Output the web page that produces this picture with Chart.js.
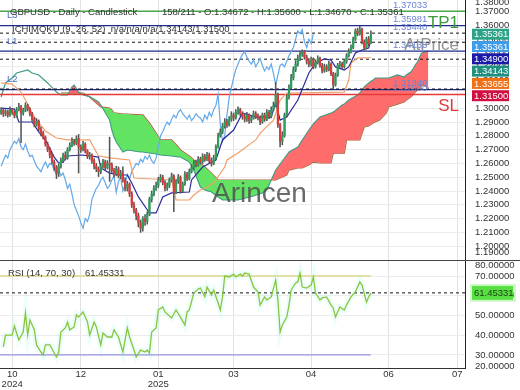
<!DOCTYPE html>
<html>
<head>
<meta charset="utf-8">
<script src="https://cdn.jsdelivr.net/npm/chart.js@4.4.1/dist/chart.umd.min.js"></script>
<style>
  html, body { margin: 0; padding: 0; background: #fff; }
  #wrap { position: relative; width: 520px; height: 390px; overflow: hidden; }
  #priceChart { position: absolute; left: 0; top: 0; }
  #rsiChart { position: absolute; left: 0; top: 261px; }
  #split { position: absolute; left: 0; top: 260px; width: 520px; height: 1px; background: #444; }
</style>
</head>
<body>
<div id="wrap">
  <canvas id="priceChart" width="520" height="261"></canvas>
  <canvas id="rsiChart" width="520" height="129"></canvas>
  <div id="split"></div>
</div>
<script>
// GBPUSD daily bars (bar 0 = mid Oct 2024)
const firstOpen = 1.2970;
const closes = [
  1.2985, 1.2960, 1.2975, 1.2950, 1.2990, 1.2970, 1.2945, 1.2990, 1.3010, 1.2965,
  1.2985, 1.3020, 1.2995, 1.2960, 1.2920, 1.2880, 1.2905, 1.2850, 1.2820, 1.2790,
  1.2740, 1.2700, 1.2660, 1.2610, 1.2570, 1.2530, 1.2580, 1.2620, 1.2660, 1.2640,
  1.2700, 1.2730, 1.2760, 1.2745, 1.2780, 1.2720, 1.2700, 1.2740, 1.2690, 1.2650,
  1.2660, 1.2620, 1.2580, 1.2560, 1.2540, 1.2580, 1.2610, 1.2570, 1.2600, 1.2590,
  1.2550, 1.2520, 1.2560, 1.2510, 1.2530, 1.2480, 1.2420, 1.2450, 1.2380, 1.2300,
  1.2260, 1.2220, 1.2170, 1.2130, 1.2200, 1.2180, 1.2230, 1.2340, 1.2380, 1.2420,
  1.2440, 1.2480, 1.2500, 1.2460, 1.2420, 1.2440, 1.2480, 1.2510, 1.2390, 1.2470,
  1.2500, 1.2400, 1.2450, 1.2520, 1.2490, 1.2540, 1.2570, 1.2600, 1.2590, 1.2630,
  1.2610, 1.2650, 1.2630, 1.2660, 1.2620, 1.2600, 1.2640, 1.2720, 1.2800, 1.2830,
  1.2870, 1.2900, 1.2880, 1.2920, 1.2950, 1.2930, 1.2970, 1.2990, 1.2960, 1.2940,
  1.2920, 1.2950, 1.2910, 1.2930, 1.2960, 1.2940, 1.2930, 1.2900, 1.2950, 1.2920,
  1.2970, 1.2940, 1.2990, 1.3020, 1.3100, 1.2880, 1.2760, 1.2800, 1.2950, 1.3080,
  1.3150, 1.3220, 1.3280, 1.3320, 1.3360, 1.3390, 1.3410, 1.3370, 1.3340, 1.3320,
  1.3350, 1.3300, 1.3330, 1.3360, 1.3310, 1.3270, 1.3300, 1.3280, 1.3320, 1.3250,
  1.3170, 1.3240, 1.3310, 1.3320, 1.3300, 1.3340, 1.3380, 1.3410, 1.3440, 1.3500,
  1.3560, 1.3540, 1.3570, 1.3480, 1.3440, 1.3500, 1.34672, 1.35361
];
const highs = [
  1.3005, 1.2995, 1.2990, 1.2985, 1.3010, 1.3000, 1.2980, 1.3005, 1.3035, 1.3020,
  1.3000, 1.3040, 1.3030, 1.3005, 1.2970, 1.2935, 1.2925, 1.2915, 1.2865, 1.2835,
  1.2800, 1.2755, 1.2715, 1.2675, 1.2625, 1.2585, 1.2595, 1.2640, 1.2675, 1.2685,
  1.2715, 1.2750, 1.2785, 1.2775, 1.2800, 1.2810, 1.2735, 1.2760, 1.2750, 1.2700,
  1.2680, 1.2670, 1.2635, 1.2600, 1.2575, 1.2600, 1.2630, 1.2625, 1.2620, 1.2790,
  1.2605, 1.2565, 1.2580, 1.2575, 1.2550, 1.2575, 1.2495, 1.2470, 1.2460, 1.2395,
  1.2320, 1.2275, 1.2240, 1.2190, 1.2215, 1.2230, 1.2250, 1.2355, 1.2400, 1.2440,
  1.2465, 1.2500, 1.2520, 1.2515, 1.2475, 1.2460, 1.2495, 1.2530, 1.2520, 1.2485,
  1.2520, 1.2510, 1.2465, 1.2540, 1.2535, 1.2560, 1.2590, 1.2620, 1.2625, 1.2650,
  1.2645, 1.2670, 1.2665, 1.2680, 1.2675, 1.2640, 1.2660, 1.2735, 1.2820, 1.2850,
  1.2890, 1.2925, 1.2920, 1.2940, 1.2975, 1.2965, 1.2990, 1.3010, 1.3000, 1.2975,
  1.2955, 1.2970, 1.2960, 1.2950, 1.2980, 1.2975, 1.2960, 1.2945, 1.2965, 1.2965,
  1.2990, 1.2985, 1.3010, 1.3045, 1.3185, 1.3110, 1.2890, 1.2830, 1.2965, 1.3095,
  1.3170, 1.3245, 1.3300, 1.3345, 1.3385, 1.3410, 1.3423, 1.3420, 1.3385, 1.3360,
  1.3370, 1.3365, 1.3350, 1.3380, 1.3370, 1.3325, 1.3320, 1.3315, 1.3340, 1.3330,
  1.3260, 1.3255, 1.3325, 1.3340, 1.3335, 1.3355, 1.3395, 1.3430, 1.3460, 1.3515,
  1.3575, 1.3580, 1.3593, 1.3580, 1.3495, 1.3515, 1.3520, 1.35600
];
const lows = [
  1.2955, 1.2940, 1.2945, 1.2935, 1.2940, 1.2955, 1.2930, 1.2935, 1.2980, 1.2750,
  1.2950, 1.2975, 1.2980, 1.2945, 1.2905, 1.2865, 1.2870, 1.2835, 1.2800, 1.2775,
  1.2725, 1.2685, 1.2640, 1.2595, 1.2550, 1.2490, 1.2505, 1.2565, 1.2605, 1.2625,
  1.2630, 1.2690, 1.2720, 1.2730, 1.2735, 1.2530, 1.2680, 1.2690, 1.2675, 1.2635,
  1.2630, 1.2600, 1.2560, 1.2540, 1.2505, 1.2525, 1.2565, 1.2555, 1.2560, 1.2470,
  1.2535, 1.2500, 1.2510, 1.2495, 1.2490, 1.2465, 1.2400, 1.2400, 1.2360, 1.2280,
  1.2240, 1.2190, 1.2140, 1.2100, 1.2110, 1.2150, 1.2160, 1.2220, 1.2320, 1.2365,
  1.2405, 1.2425, 1.2465, 1.2445, 1.2400, 1.2405, 1.2425, 1.2465, 1.2250, 1.2380,
  1.2455, 1.2385, 1.2390, 1.2440, 1.2475, 1.2480, 1.2530, 1.2555, 1.2575, 1.2580,
  1.2595, 1.2600, 1.2615, 1.2620, 1.2600, 1.2580, 1.2590, 1.2630, 1.2710, 1.2790,
  1.2815, 1.2855, 1.2860, 1.2870, 1.2905, 1.2910, 1.2920, 1.2955, 1.2945, 1.2920,
  1.2900, 1.2905, 1.2890, 1.2895, 1.2920, 1.2925, 1.2915, 1.2880, 1.2890, 1.2905,
  1.2910, 1.2925, 1.2930, 1.2980, 1.3010, 1.2860, 1.2720, 1.2735, 1.2790, 1.2940,
  1.3065, 1.3140, 1.3205, 1.3265, 1.3305, 1.3345, 1.3375, 1.3355, 1.3320, 1.3300,
  1.3305, 1.3285, 1.3290, 1.3320, 1.3295, 1.3255, 1.3260, 1.3265, 1.3270, 1.3235,
  1.3140, 1.3160, 1.3230, 1.3295, 1.3285, 1.3290, 1.3325, 1.3370, 1.3400, 1.3430,
  1.3490, 1.3525, 1.3530, 1.3465, 1.3420, 1.3430, 1.3450, 1.34670
];

// Ichimoku lines: bar index + value
const tenkanBars = [0, 6, 8, 14, 17, 20, 24, 26, 28, 30, 36, 40, 44, 45, 49, 54, 57, 59, 62, 67,
  70, 73, 77, 85, 86, 91, 97, 100, 105, 109, 115, 122, 124, 126, 129, 134, 139, 142, 146, 149,
  151, 155, 157, 160, 163, 166, 167];
const tenkanValues = [1.3001, 1.2994, 1.2900, 1.2900, 1.2828, 1.2770, 1.2646, 1.2603, 1.2610, 1.2654,
  1.2661, 1.2654, 1.2646, 1.2567, 1.2530, 1.2516, 1.2516, 1.2458, 1.2357, 1.2241,
  1.2241, 1.2357, 1.2386, 1.2393, 1.2480, 1.2574, 1.2625, 1.2770, 1.2842, 1.2965,
  1.2936, 1.2936, 1.3045, 1.2914, 1.2936, 1.3059, 1.3255, 1.3328, 1.3357, 1.3349,
  1.3299, 1.3277, 1.3299, 1.3400, 1.3422, 1.3436, 1.3490];
const kijunBars = [0, 5, 9, 11, 15, 20, 25, 30, 40, 42, 44, 50, 58, 60, 77, 79, 85, 87, 90, 93,
  96, 101, 102, 107, 115, 117, 123, 126, 129, 155, 157, 158, 161, 167];
const kijunValues = [1.3183, 1.3175, 1.3117, 1.3059, 1.2936, 1.2835, 1.2784, 1.2770, 1.2770, 1.2712,
  1.2654, 1.2639, 1.2625, 1.2494, 1.2480, 1.2335, 1.2335, 1.2371, 1.2407, 1.2429,
  1.2458, 1.2574, 1.2625, 1.2675, 1.2770, 1.2820, 1.2914, 1.3059, 1.3110, 1.3117,
  1.3204, 1.3328, 1.3364, 1.33655];
const cloudBars = [0, 2, 5, 7, 12, 14, 17, 21, 25, 27, 30, 32, 33, 35, 37, 40, 44, 45, 49,
  50, 51, 52, 55, 57, 63, 64, 67, 70, 72, 77, 80, 81, 85, 87, 90, 92, 95, 98, 100,
  107, 114, 118, 120, 122, 124, 129, 130, 134, 136, 139, 141, 144, 149, 150, 154, 155, 156, 157, 161,
  162, 164, 166, 168, 169, 171, 174, 175, 179, 182, 183, 185, 186, 187, 188, 189, 190, 193];
const senkouA = [1.3081, 1.3183, 1.3219, 1.3255, 1.3277, 1.3255, 1.3241, 1.3183, 1.3117,
  1.3096, 1.3096, 1.3154, 1.3168, 1.3117, 1.3096, 1.3084, 1.3045, 1.3023, 1.2914,
  1.2842, 1.2791, 1.2755, 1.2683, 1.2697, 1.2683, 1.2683, 1.2675, 1.2668, 1.2661,
  1.2654, 1.2646, 1.2646, 1.2610, 1.2552, 1.2429, 1.2407, 1.2393, 1.2357, 1.2335,
  1.2335, 1.2364, 1.2386, 1.2407, 1.2480, 1.2552, 1.2661, 1.2683, 1.2719, 1.2770,
  1.2842, 1.2886, 1.2936, 1.2965, 1.2972, 1.3023, 1.3030, 1.3045, 1.3059, 1.3096,
  1.3110, 1.3154, 1.3183, 1.3204, 1.3219, 1.3219, 1.3219, 1.3219, 1.3241, 1.3226,
  1.3241, 1.3262, 1.3284, 1.3313, 1.3335, 1.3371, 1.3400, 1.34143];
const senkouB = [null, null, null, null, null, null, null, null, null,
  1.3110, 1.3110, 1.3110, 1.3110, 1.3110, 1.3110, 1.3081, 1.3023, 1.3009, 1.3001,
  1.2987, 1.2965, 1.2965, 1.2958, 1.2958, 1.2951, 1.2951, 1.2893, 1.2820, 1.2770,
  1.2770, 1.2719, 1.2697, 1.2654, 1.2625, 1.2603, 1.2574, 1.2530, 1.2480, 1.2480,
  1.2480, 1.2480, 1.2480, 1.2480, 1.2480, 1.2480, 1.2516, 1.2552, 1.2567, 1.2567,
  1.2588, 1.2610, 1.2603, 1.2603, 1.2675, 1.2675, 1.2675, 1.2770, 1.2770, 1.2770,
  1.2770, 1.2864, 1.2871, 1.2893, 1.2900, 1.2914, 1.2965, 1.3009, 1.3030, 1.3045,
  1.3059, 1.3081, 1.3096, 1.3117, 1.3132, 1.3146, 1.3168, 1.3150];
const chikouShift = 26;

// RSI (14) traced
const rsiBars = [1, 2, 5, 6, 7, 8, 10, 11, 12, 13, 15, 16, 18, 19, 20, 22, 24, 25, 26, 27,
  29, 30, 31, 33, 34, 35, 37, 39, 40, 42, 43, 45, 46, 48, 50, 51, 53, 55, 57, 58,
  60, 61, 63, 65, 66, 67, 68, 70, 71, 73, 74, 77, 79, 81, 83, 84, 85, 87, 89, 90,
  92, 93, 95, 96, 98, 99, 100, 101, 103, 105, 106, 108, 109, 110, 112, 114, 116, 117, 119, 120,
  122, 124, 125, 126, 127, 129, 130, 131, 133, 134, 135, 136, 138, 140, 141, 142, 144, 145, 147, 149,
  150, 151, 153, 155, 156, 158, 160, 162, 163, 165, 166, 167];
const rsiValues = [34.1, 40.1, 40.1, 44.7, 41.1, 37.6, 41.6, 51.3, 40.1, 47.7, 42.7, 35.1, 31.5, 30.0, 35.1, 35.1, 31.0, 29.0, 31.5, 41.6,
  43.7, 46.7, 42.7, 44.2, 50.3, 49.2, 51.8, 46.7, 40.1, 46.7, 44.2, 35.1, 41.1, 39.1, 39.1, 42.7, 39.1, 31.5, 43.7, 39.1,
  32.5, 29.0, 32.5, 31.5, 32.5, 31.0, 41.6, 43.7, 52.8, 54.3, 51.8, 48.7, 52.8, 49.2, 45.2, 51.8, 52.8, 61.4, 63.4, 63.9,
  59.4, 64.4, 60.4, 62.9, 56.3, 52.8, 59.4, 70.0, 69.5, 71.0, 69.5, 71.0, 70.0, 71.5, 71.0, 64.4, 61.9, 55.3, 59.4, 57.8,
  59.4, 68.0, 57.8, 41.6, 45.2, 49.2, 55.3, 62.9, 66.5, 67.0, 71.5, 64.4, 63.9, 65.4, 69.5, 61.4, 57.8, 58.9, 59.4, 55.3,
  53.8, 49.2, 54.3, 52.8, 55.3, 59.4, 61.9, 67.0, 65.4, 56.8, 59.4, 61.45331];
const rsiLast = 61.45331;
const rsiUpper = 70;
const rsiLower = 30;

// axes
const monthTicks = [5, 36, 71, 105, 140, 175, 206];
const monthLabels = [['10', '2024'], '12', ['01', '2025'], '03', '04', '06', '07'];
const priceTicks = [1.20, 1.21, 1.22, 1.23, 1.24, 1.25, 1.26, 1.27, 1.28, 1.29,
  1.30, 1.31, 1.32, 1.33, 1.34, 1.35, 1.36, 1.37];
const priceEdgeLabels = ['1.38000', '1.19000'];
const rsiTicks = [30, 40, 50, 60, 70];
const rsiEdgeLabels = ['80.00000', '20.00000'];

// order levels on the chart
const levelValues = [1.37033, 1.35981, 1.35440, 1.34780, 1.34133, 1.33550, 1.31390, 1.31340, 1.31000];
const levelKinds = ['target', 'limit', 'entry', 'pending', 'limit', 'pending', 'pending', 'limit', 'stop'];
const levelNames = ['TP1', 'L3', 'AtPrice', '', 'L1', '', '', 'L2', 'SL'];

// price tags on the right axis
const tagValues = [1.35361, 1.35361, 1.34900, 1.34143, 1.33655, 1.31500];
const tagColors = ['#2aa387', '#3d9be9', '#1b1ba8', '#1f8f80', '#f07016', '#cf1040'];

const header1 = 'GBPUSD - Daily - Candlestick';
const header2 = '158/211 - O:1.34672 - H:1.35600 - L:1.34670 - C:1.35361';
const header3 = 'ICHIMOKU (9, 26, 52)  n/a/n/a/n/a/1.34143/1.31500';
const rsiTitle = 'RSI (14, 70, 30)';
const watermark = 'Arincen';

const FONT = '"Liberation Sans", Arial, sans-serif';
Chart.defaults.font.family = FONT;
Chart.defaults.font.size = 9.5;
Chart.defaults.color = '#333';

const X_MIN = -0.5, X_MAX = 209.5;
const lastBar = closes.length - 1;

const levelStyle = {
  target: { color: '#4ca64c', width: 1.5, dash: [] },
  limit: { color: '#1f2a8c', width: 1.2, dash: [] },
  entry: { color: '#111', width: 1, dash: [3, 3] },
  pending: { color: '#111', width: 1, dash: [3, 3] },
  stop: { color: '#e53935', width: 1.5, dash: [] }
};
const bigLabelColor = { TP1: '#3c9c3c', AtPrice: 'rgba(120,120,120,0.8)', SL: '#e03a3a' };

// candles
const opens = closes.map((c, i) => i === 0 ? firstOpen : closes[i - 1]);
const bodies = closes.map((c, i) => ({ x: i, y: [opens[i], c] }));
const wicks = closes.map((c, i) => ({ x: i, y: [lows[i], highs[i]] }));
const bodyColors = closes.map((c, i) => c >= opens[i] ? '#2e9e5e' : '#dc3a3a');

const toPoints = (xs, ys) => xs.map((x, k) => ({ x: x, y: ys[k] }));
const cloudStart = senkouB.findIndex(v => v !== null);
const leadAEarly = toPoints(cloudBars.slice(0, cloudStart + 1), senkouA);
const leadA = toPoints(cloudBars.slice(cloudStart), senkouA.slice(cloudStart));
const leadB = toPoints(cloudBars.slice(cloudStart), senkouB.slice(cloudStart));
const chikou = closes.slice(chikouShift).map((c, k) => ({ x: k, y: c }));

function flatLine(v, x0, x1) {
  return [{ x: x0, y: v }, { x: x1, y: v }];
}

const levelSets = levelValues.map((v, k) => {
  const s = levelStyle[levelKinds[k]];
  return { type: 'line', data: flatLine(v, X_MIN, X_MAX), borderColor: s.color, borderWidth: s.width, borderDash: s.dash, order: 5 };
});

function xAxis(showLabels) {
  return {
    type: 'linear', min: X_MIN, max: X_MAX, offset: false,
    afterBuildTicks: s => { s.ticks = monthTicks.map(v => ({ value: v })); },
    afterFit: s => {
      s.height = showLabels ? 22 : 0;
      s.paddingLeft = 0; s.paddingRight = 0;
    },
    ticks: {
      display: showLabels, autoSkip: false, maxRotation: 0, padding: 2,
      font: { size: 9.5, lineHeight: 1 }, color: '#333',
      callback: (v, k) => monthLabels[k]
    },
    grid: { color: '#e2e2e2', offset: false, drawTicks: false },
    border: { display: showLabels, color: '#333' }
  };
}

function yAxis(min, max, ticks, fmt) {
  return {
    position: 'right', min: min, max: max,
    afterBuildTicks: s => { s.ticks = ticks.map(v => ({ value: v })); },
    afterFit: s => { s.width = 55; s.paddingTop = 0; s.paddingBottom = 0; },
    ticks: { autoSkip: false, padding: 10, color: '#333', callback: fmt },
    grid: { color: '#ececec', drawTicks: false },
    border: { color: '#222' }
  };
}

const priceOverlay = {
  id: 'priceOverlay',
  afterDatasetsDraw(chart) {
    const { ctx, chartArea: a } = chart;
    const y = chart.scales.y;
    ctx.save();
    ctx.font = '28px ' + FONT;
    ctx.fillStyle = 'rgba(80,80,80,0.85)';
    ctx.textBaseline = 'alphabetic';
    ctx.textAlign = 'left';
    ctx.fillText(watermark, 212, 202);

    ctx.textBaseline = 'middle';
    levelValues.forEach((v, k) => {
      const name = levelNames[k];
      if (!name) return;
      const py = y.getPixelForValue(v);
      ctx.textAlign = 'left';
      ctx.font = '9.5px ' + FONT;
      ctx.fillStyle = '#6a84d4';
      ctx.fillText(v.toFixed(5), a.right - 72, py - 6);
      if (name.startsWith('L')) {
        ctx.fillStyle = '#4f6fd0';
        ctx.fillText(name, 7, py - 10);
      } else {
        ctx.font = '17px ' + FONT;
        ctx.fillStyle = bigLabelColor[name];
        ctx.textAlign = 'right';
        ctx.fillText(name, a.right - 6, py + 12);
      }
    });

    ctx.textAlign = 'left';
    ctx.font = '9.5px ' + FONT;
    ctx.fillStyle = '#333';
    ctx.fillText(header1, 10, 12);
    ctx.fillText(header2, 162, 12);
    ctx.fillText(header3, 12, 29);
    ctx.restore();
  },
  afterDraw(chart) {
    const { ctx, chartArea: a } = chart;
    const y = chart.scales.y;
    ctx.save();
    ctx.font = '9.5px ' + FONT;
    ctx.textBaseline = 'middle';
    ctx.textAlign = 'left';
    ctx.fillStyle = '#333';
    ctx.fillText(priceEdgeLabels[0], a.right + 10, a.top + 2);
    ctx.fillText(priceEdgeLabels[1], a.right + 10, a.bottom - 9);
    let prev = -Infinity;
    tagValues.forEach((v, k) => {
      const py = Math.max(y.getPixelForValue(v), prev + 12.3);
      prev = py;
      ctx.fillStyle = tagColors[k];
      ctx.fillRect(a.right + 7, py - 5.5, 37, 11);
      ctx.fillStyle = '#fff';
      ctx.fillText(v.toFixed(5), a.right + 9, py + 0.5);
    });
    ctx.restore();
  }
};

new Chart(document.getElementById('priceChart'), {
  type: 'line',
  data: {
    datasets: [
      { type: 'bar', data: bodies, backgroundColor: bodyColors, barThickness: 1.6, minBarLength: 1, grouped: false, order: 0 },
      { type: 'bar', data: wicks, backgroundColor: '#555', barThickness: 0.9, grouped: false, order: 1 },
      { data: toPoints(tenkanBars, tenkanValues), borderColor: '#2b2b9b', borderWidth: 1.2, order: 2 },
      { data: toPoints(kijunBars, kijunValues), borderColor: '#f2a06a', borderWidth: 1.2, order: 3 },
      { data: chikou, borderColor: '#64a9e8', borderWidth: 1.2, order: 4 },
      ...levelSets,
      { data: leadAEarly, borderColor: '#3f9a86', borderWidth: 1.2, order: 6 },
      { data: leadA, borderColor: '#3f9a86', borderWidth: 1.1, order: 6,
        fill: { target: '+1', above: 'rgb(255,108,108)', below: 'rgb(98,228,98)' } },
      { data: leadB, borderColor: '#b4543c', borderWidth: 1.2, order: 7 }
    ]
  },
  options: {
    responsive: false, animation: false, devicePixelRatio: 1, events: [],
    layout: { padding: 0 },
    elements: { point: { radius: 0 }, line: { tension: 0, fill: false } },
    plugins: { legend: { display: false }, tooltip: { enabled: false } },
    scales: {
      x: xAxis(false),
      y: yAxis(1.1893, 1.3784, priceTicks, v => v.toFixed(5))
    }
  },
  plugins: [priceOverlay]
});

const rsiOverlay = {
  id: 'rsiOverlay',
  afterDraw(chart) {
    const { ctx, chartArea: a } = chart;
    const y = chart.scales.y;
    ctx.save();
    ctx.font = '9.5px ' + FONT;
    ctx.textBaseline = 'middle';
    ctx.textAlign = 'left';
    ctx.fillStyle = '#333';
    ctx.fillText(rsiTitle, 8, 12);
    ctx.fillText(rsiLast.toFixed(5), 85, 12);
    ctx.fillText(rsiEdgeLabels[0], a.right + 10, a.top + 4);
    ctx.fillText(rsiEdgeLabels[1], a.right + 10, a.bottom - 2);
    const py = y.getPixelForValue(rsiLast);
    ctx.fillStyle = 'rgba(150,240,140,0.45)';
    ctx.fillRect(a.right + 5, py - 9, 46, 18);
    ctx.fillStyle = '#58df44';
    ctx.fillRect(a.right + 7, py - 7, 41, 14);
    ctx.fillStyle = '#1f3d12';
    ctx.fillText(rsiLast.toFixed(5), a.right + 9, py + 0.5);
    ctx.restore();
  }
};

const rsiPoints = toPoints(rsiBars, rsiValues);
new Chart(document.getElementById('rsiChart'), {
  type: 'line',
  data: {
    datasets: [
      { data: rsiPoints, borderColor: 'rgb(138,196,62)', borderWidth: 1.3, order: 0 },
      { data: flatLine(rsiLast, X_MIN, X_MAX), borderColor: '#111', borderWidth: 1, borderDash: [3, 3], order: 1 },
      { data: flatLine(rsiUpper, X_MIN, lastBar), borderColor: 'rgb(216,216,140)', borderWidth: 1.3, order: 2 },
      { data: flatLine(rsiLower, X_MIN, lastBar), borderColor: 'rgb(150,150,225)', borderWidth: 1.3, order: 2 },
      { data: rsiPoints, borderColor: 'rgba(185,250,238,0.28)', borderWidth: 6, order: 3 }
    ]
  },
  options: {
    responsive: false, animation: false, devicePixelRatio: 1, events: [],
    layout: { padding: 0 },
    elements: { point: { radius: 0 }, line: { tension: 0, fill: false } },
    plugins: { legend: { display: false }, tooltip: { enabled: false } },
    scales: {
      x: xAxis(true),
      y: yAxis(23.4, 77.6, rsiTicks, v => v.toFixed(5))
    }
  },
  plugins: [rsiOverlay]
});
</script>
</body>
</html>
